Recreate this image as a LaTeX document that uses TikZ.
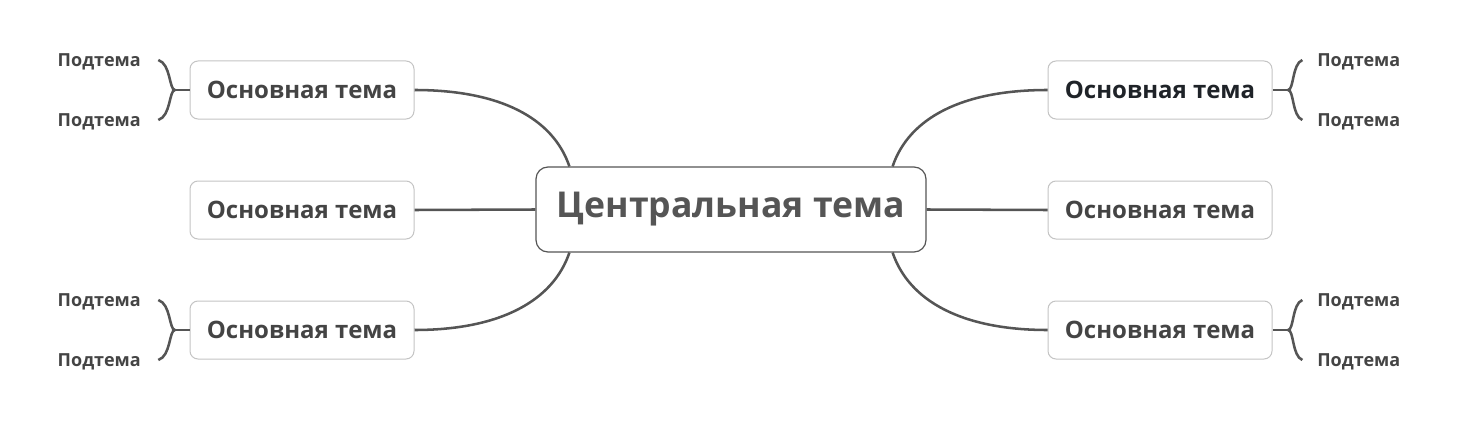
\documentclass[tikz,border=0pt]{standalone}
\usepackage{fontspec}
\setmainfont{Open Sans}
\usepackage{tikz}
\usepackage{color}

\definecolor{linie}{HTML}{555555}
\definecolor{rand}{HTML}{C4C4C4}
\definecolor{schrift}{HTML}{444444}
\definecolor{dunkel}{HTML}{1F2328}

\begin{document}
\begin{tikzpicture}[x=0.75pt,y=-0.75pt]
\tikzstyle{centralnaya}=[draw=linie, line width=0.9pt, rounded corners=9pt, fill=white, minimum width=292.5pt, minimum height=63.75pt, text=linie, font=\fontsize{26.7}{32}\selectfont\bfseries]
\tikzstyle{osnovnaya}=[draw=rand, line width=0.75pt, rounded corners=6pt, fill=white, minimum width=168pt, minimum height=43.5pt, text=schrift, font=\fontsize{18}{21}\selectfont\bfseries]
\tikzstyle{podtema}=[inner sep=0pt, text=schrift, font=\fontsize{13.5}{16}\selectfont\bfseries]
\tikzstyle{vetka}=[draw=linie, line width=1.9pt]
\useasboundingbox (0,0) rectangle (1463,435);
 % center
 \node[centralnaya] (zentrum) at (731,209.5) {Центральная тема};
 % main topics
 \node[osnovnaya] (lo) at (302,90) {Основная тема};
 \node[osnovnaya] (ls) at (302,210) {Основная тема};
 \node[osnovnaya] (lu) at (302,330) {Основная тема};
 \node[osnovnaya, text=dunkel] (ro) at (1160,90) {Основная тема};
 \node[osnovnaya] (rs) at (1160,210) {Основная тема};
 \node[osnovnaya] (ru) at (1160,330) {Основная тема};
 % subtopics
 \node[podtema, anchor=east] (lo1) at (141,62) {Подтема};
 \node[podtema, anchor=east] (lo2) at (141,122) {Подтема};
 \node[podtema, anchor=east] (lu1) at (141,302) {Подтема};
 \node[podtema, anchor=east] (lu2) at (141,362) {Подтема};
 \node[podtema, anchor=west] (ro1) at (1317,62) {Подтема};
 \node[podtema, anchor=west] (ro2) at (1317,122) {Подтема};
 \node[podtema, anchor=west] (ru1) at (1317,302) {Подтема};
 \node[podtema, anchor=west] (ru2) at (1317,362) {Подтема};
 % branches
 \draw[vetka] (lo.east) .. controls (500,90) and (553,118) .. ([xshift=25.5pt]zentrum.north west);
 \draw[vetka] (ls.east) -- (zentrum.west);
 \draw[vetka] (lu.east) .. controls (500,330) and (553,301) .. ([xshift=25.5pt]zentrum.south west);
 \draw[vetka] (ro.west) .. controls (962,90) and (909,118) .. ([xshift=-25.5pt]zentrum.north east);
 \draw[vetka] (rs.west) -- (zentrum.east);
 \draw[vetka] (ru.west) .. controls (962,330) and (909,301) .. ([xshift=-25.5pt]zentrum.south east);
 % braces
 \coordinate (lo-u) at (175,90);
 \draw[vetka] (lo.west) -- (lo-u);
 \draw[vetka] (lo-u) .. controls (169,90) and (171,64) .. ([xshift=13pt,yshift=1.5pt]lo1.east);
 \draw[vetka] (lo-u) .. controls (169,90) and (171,116) .. ([xshift=13pt,yshift=1.5pt]lo2.east);
 \coordinate (lu-u) at (175,330);
 \draw[vetka] (lu.west) -- (lu-u);
 \draw[vetka] (lu-u) .. controls (169,330) and (171,304) .. ([xshift=13pt,yshift=1.5pt]lu1.east);
 \draw[vetka] (lu-u) .. controls (169,330) and (171,356) .. ([xshift=13pt,yshift=1.5pt]lu2.east);
 \coordinate (ro-u) at (1288,90);
 \draw[vetka] (ro.east) -- (ro-u);
 \draw[vetka] (ro-u) .. controls (1294,90) and (1292,64) .. ([xshift=-11pt,yshift=1.5pt]ro1.west);
 \draw[vetka] (ro-u) .. controls (1294,90) and (1292,116) .. ([xshift=-11pt,yshift=1.5pt]ro2.west);
 \coordinate (ru-u) at (1288,330);
 \draw[vetka] (ru.east) -- (ru-u);
 \draw[vetka] (ru-u) .. controls (1294,330) and (1292,304) .. ([xshift=-11pt,yshift=1.5pt]ru1.west);
 \draw[vetka] (ru-u) .. controls (1294,330) and (1292,356) .. ([xshift=-11pt,yshift=1.5pt]ru2.west);
\end{tikzpicture}
\end{document}
